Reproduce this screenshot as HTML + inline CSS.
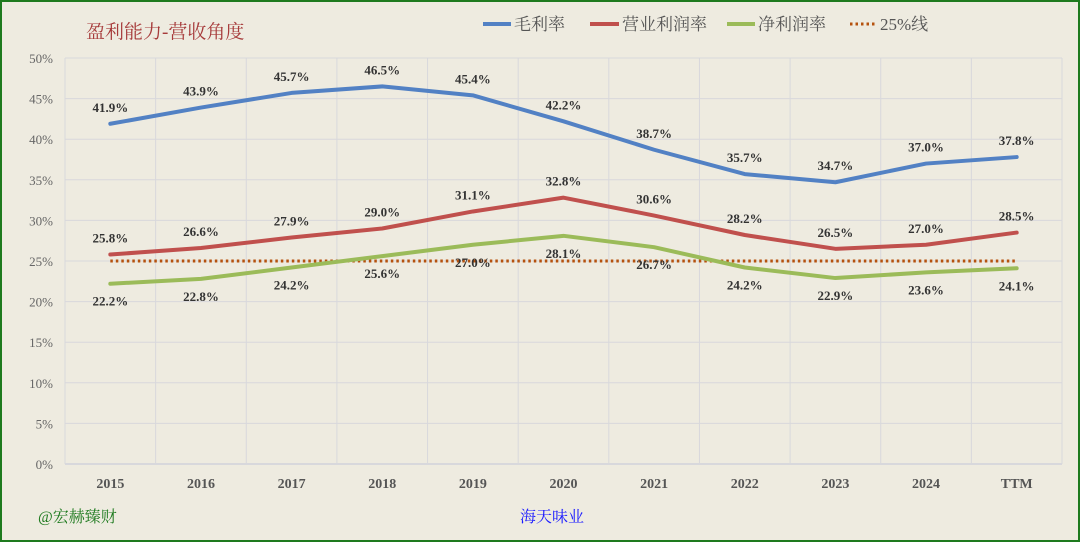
<!DOCTYPE html>
<html><head><meta charset="utf-8"><style>
html,body{margin:0;padding:0;background:#eeebe0;}
svg{display:block;}
text{font-family:"Liberation Serif","Noto Serif CJK SC",serif;}
</style></head><body>
<svg id="chart" width="1080" height="542" viewBox="0 0 1080 542">
<rect x="1" y="1" width="1078" height="540" fill="#eeebe0" stroke="#1e7a1e" stroke-width="2"/>
<text x="86" y="38" font-size="19" fill="#a63a3a">盈利能力-营收角度</text>
<g>
<g><line x1="483" y1="24" x2="511" y2="24" stroke="#5281c4" stroke-width="4"/><text x="514" y="30" font-size="17" fill="#555">毛利率</text></g>
<g><line x1="590" y1="24" x2="619" y2="24" stroke="#c0504d" stroke-width="4"/><text x="622" y="30" font-size="17" fill="#555">营业利润率</text></g>
<g><line x1="727" y1="24" x2="755" y2="24" stroke="#9bbb59" stroke-width="4"/><text x="758" y="30" font-size="17" fill="#555">净利润率</text></g>
<g><line x1="850" y1="24" x2="876" y2="24" stroke="#b5520e" stroke-width="3" stroke-dasharray="2.5,3"/><text x="880" y="30" font-size="17" fill="#555">25%线</text></g>
</g>
<g id="grid"></g><g id="axes"></g><g id="series"></g><g id="labels"></g>
<text x="38" y="522" font-size="16" fill="#1e7a1e">@宏赫臻财</text>
<text x="520" y="522" font-size="16" fill="#1a1aff">海天味业</text>
</svg>
<script>
const categories=["2015","2016","2017","2018","2019","2020","2021","2022","2023","2024","TTM"];
const grossMargin=[41.9,43.9,45.7,46.5,45.4,42.2,38.7,35.7,34.7,37.0,37.8];
const operatingMargin=[25.8,26.6,27.9,29.0,31.1,32.8,30.6,28.2,26.5,27.0,28.5];
const netMargin=[22.2,22.8,24.2,25.6,27.0,28.1,26.7,24.2,22.9,23.6,24.1];
const refLine=25;
const yTicks=[0,5,10,15,20,25,30,35,40,45,50];
const NS="http://www.w3.org/2000/svg";
const L=65,R=1062,T=58,B=464,yMax=50;
const bw=(R-L)/categories.length;
const xs=i=>L+bw*(i+0.5);
const ys=v=>B-(v/yMax)*(B-T);
function mk(tag,attrs,parent){const e=document.createElementNS(NS,tag);for(const k in attrs)e.setAttribute(k,attrs[k]);parent.appendChild(e);return e;}
const grid=document.getElementById('grid'),axes=document.getElementById('axes'),series=document.getElementById('series'),labels=document.getElementById('labels');
yTicks.forEach(t=>{
 const l=mk('line',{x1:L,x2:R,y1:ys(t),y2:ys(t),stroke:'#d8d8dc','stroke-width':t===0?2:1},grid);
 
 
 const tx=mk('text',{x:L-12,y:ys(t)+5,'font-size':13,fill:'#666','text-anchor':'end'},axes);
 tx.textContent=t+'%';
 
 
});
for(let i=0;i<=categories.length;i++){
 const l=mk('line',{x1:L+bw*i,x2:L+bw*i,y1:T,y2:B,stroke:'#d8d8dc','stroke-width':1},grid);
 
 
}
categories.forEach((c,i)=>{
 const tx=mk('text',{x:xs(i),y:B+24,'font-size':14,'font-weight':'bold',fill:'#555','text-anchor':'middle'},axes);
 tx.textContent=c;
 
 
});
const rl=mk('line',{x1:xs(0),x2:xs(categories.length-1),y1:ys(refLine),y2:ys(refLine),stroke:'#b5520e','stroke-width':3,'stroke-dasharray':'2.5,3'},series);


function drawSeries(vals,color,name,dy){
 const d=vals.map((v,i)=>(i?'L':'M')+xs(i)+','+ys(v)).join(' ');
 const p=mk('path',{d:d,fill:'none',stroke:color,'stroke-width':4,'stroke-linejoin':'round','stroke-linecap':'round'},series);
 
 
 vals.forEach((v,i)=>{
  const t=mk('text',{x:xs(i),y:ys(v)+dy,'font-size':13,'font-weight':'bold',fill:'#333','text-anchor':'middle'},labels);
  t.textContent=v.toFixed(1)+'%';
  
  
 });
}
drawSeries(grossMargin,'#5281c4','gross-margin',-12);
drawSeries(operatingMargin,'#c0504d','operating-margin',-12);
drawSeries(netMargin,'#9bbb59','net-margin',22);
</script>
</body></html>
